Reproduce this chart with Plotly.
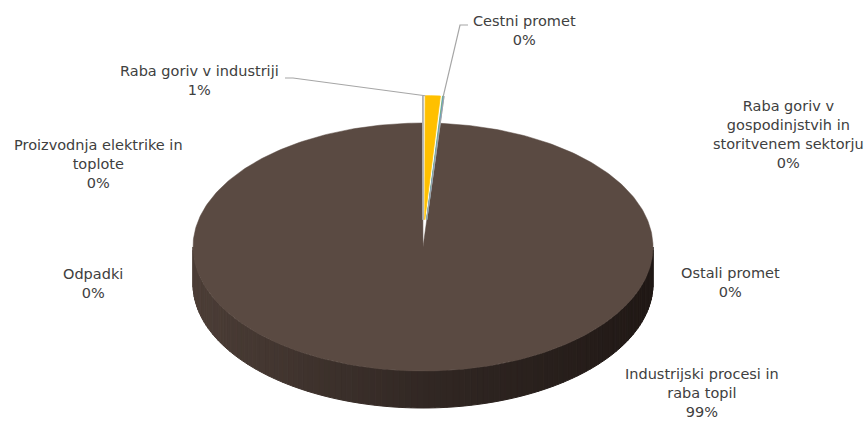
import numpy as np
import plotly.graph_objects as go

# ---------------- data ----------------
categories = [
    "Proizvodnja elektrike in toplote",
    "Raba goriv v industriji",
    "Cestni promet",
    "Ostali promet",
    "Raba goriv v gospodinjstvih in storitvenem sektorju",
    "Industrijski procesi in raba topil",
    "Odpadki",
]
values = [0.03, 1.05, 0.08, 0.01, 0.03, 98.77, 0.03]
label_lines = [
    ["Proizvodnja elektrike in", "toplote"],
    ["Raba goriv v industriji"],
    ["Cestni promet"],
    ["Ostali promet"],
    ["Raba goriv v", "gospodinjstvih in", "storitvenem sektorju"],
    ["Industrijski procesi in", "raba topil"],
    ["Odpadki"],
]
colors = ["#9DA3A6", "#FFC000", "#6FAF7A", "#5B9BD5", "#A5A5A5", "#5A4A42", "#B0B0B0"]

# ---------------- layout constants ----------------
W, H = 868, 421
cx, cy = 423.0, 247.0      # centre of top face (pixels, y downward)
a, b = 230.0, 124.0        # ellipse semi-axes
depth = 37.0               # pie thickness
explode = 0.22             # explode fraction for small slices
# centre (x, y) of each label block
label_pos = [(98, 164), (199, 80), (524, 30), (730, 282), (788, 134), (702, 393), (93, 283)]

total = sum(values)
fracs = [v / total for v in values]
starts = np.cumsum([0] + fracs[:-1]) * 2 * np.pi
ends = starts + np.array(fracs) * 2 * np.pi


def pt(theta, ox=0.0, oy=0.0, dy=0.0):
    return cx + a * np.sin(theta) + ox, cy - b * np.cos(theta) + oy + dy


fig = go.Figure()

# ---- side wall (front half) with shading gradient ----
big = int(np.argmax(values))
n = 120
thetas = np.linspace(np.pi / 2, 3 * np.pi / 2, n + 1)
c_left = np.array([76, 62, 55])
c_mid = np.array([50, 40, 36])
c_right = np.array([33, 25, 22])
for i in range(n):
    t0, t1 = thetas[i], thetas[i + 1]
    ts = np.linspace(t0, t1, 4)
    xs_top, ys_top = pt(ts)
    xs_bot, ys_bot = pt(ts[::-1], dy=depth)
    xs = np.concatenate([xs_top, xs_bot, xs_top[:1]])
    ys = np.concatenate([ys_top, ys_bot, ys_top[:1]])
    xm = (np.mean(xs_top) - (cx - a)) / (2 * a)  # 0 left .. 1 right
    s = 1 - xm
    if s > 0.5:
        col = c_mid + (c_left - c_mid) * (s - 0.5) * 2
    else:
        col = c_right + (c_mid - c_right) * s * 2
    col = "rgb(%d,%d,%d)" % tuple(col.astype(int))
    fig.add_trace(go.Scatter(x=xs, y=ys, mode="lines", fill="toself",
                             fillcolor=col, line=dict(color=col, width=1),
                             hoverinfo="skip", showlegend=False))

# ---- top faces ----
order = [big] + [i for i in range(len(values)) if i != big]
offsets = {}
for i in order:
    mid = (starts[i] + ends[i]) / 2
    if i == big:
        ox, oy = 0.0, 0.0
    else:
        ox = explode * a * np.sin(mid)
        oy = -explode * b * np.cos(mid)
    offsets[i] = (ox, oy)
    ts = np.linspace(starts[i], ends[i], max(4, int(fracs[i] * 400)))
    xa, ya = pt(ts, ox, oy)
    xs = np.concatenate([[cx + ox], xa, [cx + ox]])
    ys = np.concatenate([[cy + oy], ya, [cy + oy]])
    lw = 0.5 if i == big else 0.8
    fig.add_trace(go.Scatter(x=xs, y=ys, mode="lines", fill="toself",
                             fillcolor=colors[i], line=dict(color=colors[i], width=lw),
                             hoverinfo="skip", showlegend=False))

# ---- leader lines ----
lc = "#A6A6A6"
i = 1
x0, y0 = pt(starts[i], *offsets[i])
fig.add_trace(go.Scatter(x=[285, 293, x0], y=[78, 78, y0], mode="lines",
                         line=dict(color=lc, width=1.2), hoverinfo="skip", showlegend=False))
i = 2
x1, y1 = pt(ends[i], *offsets[i])
fig.add_trace(go.Scatter(x=[x1, 460, 468], y=[y1, 25, 25], mode="lines",
                         line=dict(color=lc, width=1.2), hoverinfo="skip", showlegend=False))

# ---- labels ----
for i, lines in enumerate(label_lines):
    pct = "%d%%" % round(fracs[i] * 100)
    lx, ly = label_pos[i]
    fig.add_annotation(x=lx, y=ly, text="<br>".join(lines + [pct]), showarrow=False,
                       xref="x", yref="y", xanchor="center", yanchor="middle",
                       align="center", borderpad=0,
                       font=dict(family="DejaVu Sans", size=14.5, color="#404040"))

fig.update_layout(
    width=W, height=H, margin=dict(l=0, r=0, t=0, b=0),
    paper_bgcolor="white", plot_bgcolor="white", showlegend=False,
    xaxis=dict(range=[0, W], visible=False, fixedrange=True),
    yaxis=dict(range=[H, 0], visible=False, fixedrange=True),
)
fig.write_html("out.html")
